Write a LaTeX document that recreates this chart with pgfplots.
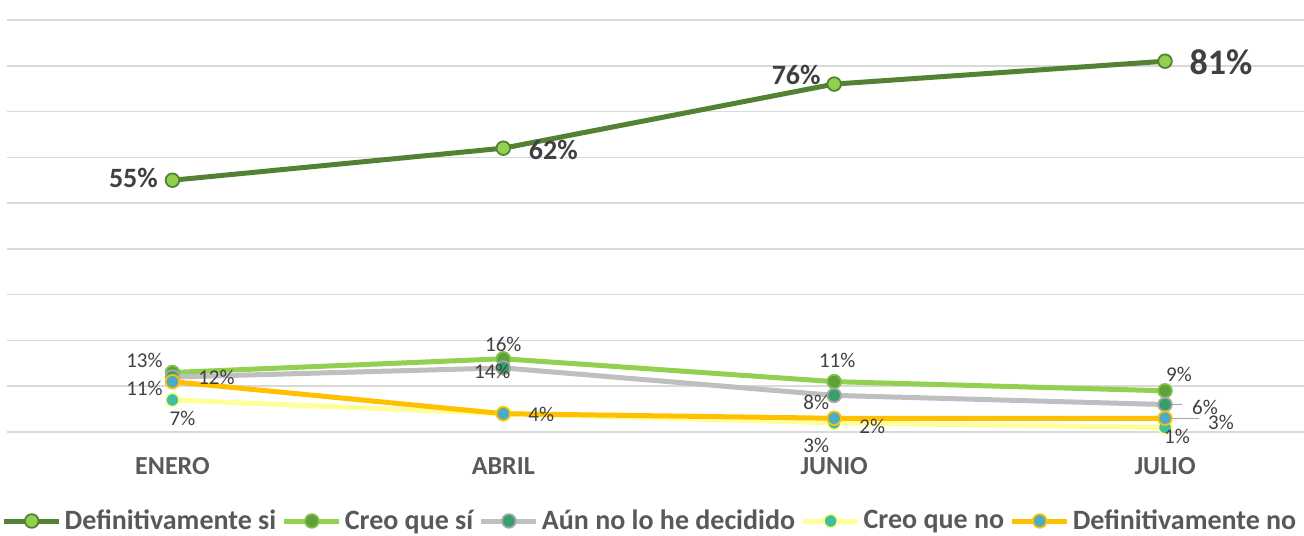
\documentclass[border=0pt]{standalone}
\usepackage{fontspec}
\setmainfont{Carlito}
\usepackage{pgfplots}
\pgfplotsset{compat=1.18}
\definecolor{dsiL}{HTML}{548235}
\definecolor{dsiM}{HTML}{92D050}
\definecolor{csiL}{HTML}{92D050}
\definecolor{csiM}{HTML}{5FA03A}
\definecolor{csiE}{HTML}{7DC14A}
\definecolor{aunL}{HTML}{BFBFBF}
\definecolor{aunM}{HTML}{35A06A}
\definecolor{aunE}{HTML}{A6A6A6}
\definecolor{cnoL}{HTML}{FFFF99}
\definecolor{cnoM}{HTML}{40BFA0}
\definecolor{dnoL}{HTML}{FFC000}
\definecolor{dnoM}{HTML}{4BACC6}
\definecolor{gridc}{HTML}{D9D9D9}
\definecolor{labc}{HTML}{404040}
\definecolor{legc}{HTML}{595959}
\begin{document}
\begin{tikzpicture}
\begin{axis}[
  scale only axis, width=648.5pt, height=206pt,
  xmin=-0.5, xmax=3.42, ymin=0, ymax=90,
  xtick={0,1,2,3}, xticklabels={ENERO,ABRIL,JUNIO,JULIO},
  ytick={0,10,...,90}, yticklabels={},
  ymajorgrids, grid style={draw=gridc, line width=0.8pt},
  axis line style={draw=none}, major tick length=0pt,
  xticklabel style={font=\fontsize{13}{15}\selectfont\bfseries, text=legc, anchor=base, yshift=-21pt},
  clip=false,
  legend columns=5,
  legend style={draw=none, fill=none, font=\fontsize{14}{16}\selectfont\bfseries, text=legc,
    at={(0.5,0)}, anchor=center, yshift=-44.5pt, xshift=-3pt, inner xsep=0pt, inner ysep=0pt,
    nodes={inner xsep=0.5pt, inner ysep=0.5pt},
    /tikz/every even column/.append style={column sep=2.3pt},
    /tikz/every odd column/.append style={column sep=1pt}},
  legend image code/.code={\draw[mark repeat=2,mark phase=2,#1] plot coordinates {(0pt,0pt) (13.75pt,0pt) (27.5pt,0pt)};},
  nodes near coords={\pgfplotspointmeta}, point meta=explicit symbolic,
  visualization depends on={\thisrow{dx}\as\myxs},
  visualization depends on={\thisrow{dy}\as\myys},
  every node near coord/.append style={anchor=center, xshift=\myxs pt, yshift=\myys pt,
    font=\fontsize{10.5}{12}\selectfont, text=labc, inner sep=0pt},
]
\addplot[color=dsiL, line width=2.5pt, mark=*, mark size=3.4pt,
  mark options={fill=dsiM, draw=dsiL, line width=0.9pt},
  every node near coord/.append style={font=\fontsize{14}{16}\selectfont\bfseries}]
  table[meta=lab] {
x y lab dx dy
0 55 55\% -19.5 1
1 62 62\% 25 -1
2 76 76\% -19 4.5
3 81 {\fontsize{18}{20}\selectfont 81\%} 28 -0.5
};
\addlegendentry{Definitivamente si}
\addplot[color=csiL, line width=2.5pt, mark=*, mark size=3.4pt,
  mark options={fill=csiM, draw=csiE, line width=0.9pt}]
  table[meta=lab] {
x y lab dx dy
0 13 13\% -14 6
1 16 16\% 0 7
2 11 11\% 1.5 10.8
3 9 9\% 7 8
};
\addlegendentry{Creo que sí}
\addplot[color=aunL, line width=2.5pt, mark=*, mark size=3.4pt,
  mark options={fill=aunM, draw=aunE, line width=0.9pt}]
  table[meta=lab] {
x y lab dx dy
0 12 12\% 22 0
1 14 14\% -5.5 -2
2 8 8\% -9 -3.5
3 6 6\% 20 -1.2
};
\addlegendentry{Aún no lo he decidido}
\addplot[color=cnoL, line width=2.5pt, mark=*, mark size=3.4pt,
  mark options={fill=cnoM, draw=cnoL, line width=0.9pt}]
  table[meta=lab] {
x y lab dx dy
0 7 7\% 5 -9
1 4 {} 0 0
2 2 3\% -9 -11.5
3 1 1\% 6 -4.5
};
\addlegendentry{Creo que no}
\addplot[color=dnoL, line width=2.5pt, mark=*, mark size=3.4pt,
  mark options={fill=dnoM, draw=dnoL, line width=0.9pt}]
  table[meta=lab] {
x y lab dx dy
0 11 11\% -14 -3.5
1 4 4\% 19 -0.5
2 3 2\% 19 -4
3 3 3\% 28 -1.9
};
\addlegendentry{Definitivamente no}
\draw[gray!70, line width=0.5pt] (axis cs:3,6) -- ++(8.5pt,0pt);
\draw[gray!70, line width=0.5pt] (axis cs:3,3) -- ++(17pt,0pt);
\end{axis}
\pgfresetboundingbox
\useasboundingbox (-3.5pt,-51.5pt) rectangle (648.5pt,216pt);
\end{tikzpicture}
\end{document}
